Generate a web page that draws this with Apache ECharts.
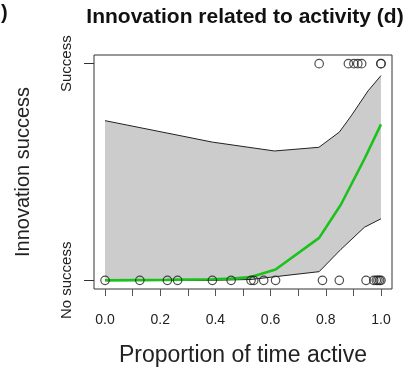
<!DOCTYPE html>
<html><head><meta charset="utf-8">
<script src="https://cdn.jsdelivr.net/npm/echarts@6/dist/echarts.min.js"></script>
<style>html,body{margin:0;padding:0;background:#fff}#c{width:408px;height:372px}</style>
</head><body><div id="c"></div>
<script>
// Fitted probability (green line)
const fitX = [0.0, 0.126, 0.226, 0.389, 0.457, 0.529, 0.618, 0.776, 0.855, 0.94, 1.0];
const fitY = [0.0, 0.001, 0.002, 0.005, 0.008, 0.015, 0.05, 0.196, 0.35, 0.56, 0.72];
// Upper confidence bound
const upX = [0.0, 0.389, 0.614, 0.775, 0.849, 0.892, 0.953, 1.0];
const upY = [0.737, 0.638, 0.597, 0.614, 0.684, 0.759, 0.874, 0.945];
// Lower confidence bound
const loX = [0.0, 0.389, 0.529, 0.618, 0.776, 0.855, 0.94, 1.0];
const loY = [0.0, 0.0, 0.004, 0.017, 0.04, 0.143, 0.245, 0.284];
// Observations: no success (0) and success (1)
const noSuccessX = [0.0, 0.126, 0.226, 0.263, 0.389, 0.457, 0.529, 0.539, 0.575, 0.618, 0.788, 0.849, 0.946, 0.974, 0.983, 0.989, 0.995, 1.0];
const successX = [0.776, 0.882, 0.902, 0.916, 0.93, 1.0, 1.0];
// Axis labels
const xTickValues = [0, 0.1, 0.2, 0.3, 0.4, 0.5, 0.6, 0.7, 0.8, 0.9, 1.0];
const xLabelValues = [0, 0.2, 0.4, 0.6, 0.8, 1.0];
const xLabels = ["0.0", "0.2", "0.4", "0.6", "0.8", "1.0"];
const yTickValues = [0, 1];
const yLabels = ["No success", "Success"];

const zip = (xs, ys) => xs.map((x, i) => [x, ys[i]]);
const chart = echarts.init(document.getElementById('c'), null, {renderer: 'canvas'});
const FONT = 'Liberation Sans, Arial, sans-serif';

chart.setOption({
  animation: false,
  title: {
    text: 'Innovation related to activity (d)',
    left: 240, top: 2, textAlign: 'center',
    textStyle: {fontFamily: FONT, fontSize: 21, fontWeight: 'bold', color: '#111'}
  },
  graphic: [{
    type: 'text', left: 1, top: 3,
    style: {text: ')', fontFamily: FONT, fontSize: 20, fontWeight: 'bold', fill: '#111'}
  }],
  grid: {left: 94, right: 16, top: 55, bottom: 81, show: true, borderColor: '#333', borderWidth: 1, backgroundColor: 'transparent'},
  xAxis: {
    type: 'value', min: -0.04, max: 1.04,
    name: 'Proportion of time active', nameLocation: 'middle', nameGap: 55,
    nameTextStyle: {fontFamily: FONT, fontSize: 23, color: '#222'},
    axisLine: {show: false, onZero: false},
    splitLine: {show: false},
    axisTick: {show: true, inside: false, length: 7, customValues: xTickValues, lineStyle: {color: '#555'}},
    axisLabel: {
      customValues: xLabelValues, margin: 24,
      fontFamily: FONT, fontSize: 14, color: '#222',
      formatter: v => { const i = xLabelValues.findIndex(t => Math.abs(t - v) < 1e-6); return i >= 0 ? xLabels[i] : ''; }
    }
  },
  yAxis: {
    type: 'value', min: -0.04, max: 1.04,
    name: 'Innovation success', nameLocation: 'middle', nameGap: 61, nameRotate: 90,
    nameTextStyle: {fontFamily: FONT, fontSize: 20, color: '#222'},
    axisLine: {show: false, onZero: false},
    splitLine: {show: false},
    axisTick: {show: true, inside: false, length: 10, customValues: yTickValues, lineStyle: {color: '#333'}},
    axisLabel: {
      customValues: yTickValues, rotate: 90, margin: 20,
      fontFamily: FONT, fontSize: 15, color: '#222',
      formatter: v => { const i = yTickValues.findIndex(t => Math.abs(t - v) < 1e-6); return i >= 0 ? yLabels[i] : ''; }
    }
  },
  series: [
    {
      type: 'custom', silent: true, z: 1,
      data: [[0, 0]],
      renderItem: (params, api) => {
        const pts = zip(upX, upY).concat(zip(loX, loY).reverse()).map(p => api.coord(p));
        return {type: 'polygon', shape: {points: pts}, style: {fill: '#cccccc', stroke: null}};
      }
    },
    {type: 'line', data: zip(upX, upY), symbol: 'none', z: 2, lineStyle: {color: '#222', width: 1}},
    {type: 'line', data: zip(loX, loY), symbol: 'none', z: 2, lineStyle: {color: '#222', width: 1}},
    {type: 'line', data: zip(fitX, fitY), symbol: 'none', z: 3, lineStyle: {color: '#1cc21c', width: 2.6}},
    {
      type: 'scatter', z: 4, symbol: 'circle', symbolSize: 8.5,
      itemStyle: {color: 'rgba(0,0,0,0)', borderColor: '#222', borderWidth: 1.2},
      data: noSuccessX.map(x => [x, 0]).concat(successX.map(x => [x, 1]))
    }
  ]
});
</script></body></html>
